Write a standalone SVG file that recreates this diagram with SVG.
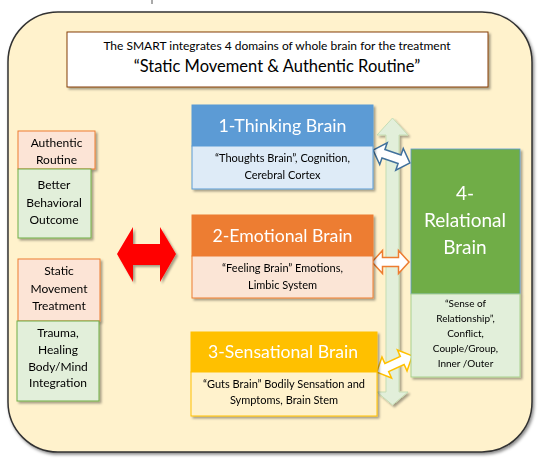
<svg xmlns="http://www.w3.org/2000/svg" width="541" height="460" viewBox="0 0 541 460">
<defs>
<filter id="sh" x="-10%" y="-10%" width="130%" height="130%">
<feDropShadow dx="2" dy="2" stdDeviation="1.2" flood-color="#000" flood-opacity="0.35"/>
</filter>
<filter id="shb" x="-5%" y="-5%" width="110%" height="110%">
<feDropShadow dx="1.5" dy="2" stdDeviation="1.5" flood-color="#000" flood-opacity="0.45"/>
</filter>
<style>
text{font-family:Lato,"Liberation Sans",sans-serif;text-anchor:middle;}
.hd{fill:#fff;font-size:18px;}
.rb{fill:#fff;font-size:19px;}
.sub{fill:#000;font-size:11px;}
.lb{fill:#000;font-size:12px;}
.dbl{fill:#fff;stroke-width:1.5;stroke-linejoin:miter;}
</style>
</defs>
<rect width="541" height="460" fill="#fff"/>
<line x1="152" y1="0" x2="152" y2="4" stroke="#555" stroke-width="1"/>
<g id="frame">
<rect x="8" y="12" width="524" height="440" rx="50" ry="50" fill="#FFF2CC" stroke="#333" stroke-width="1.5" filter="url(#shb)"/>
</g>
<g id="title">
<rect x="67" y="32" width="421" height="55" fill="#fff" stroke="#843C0C" stroke-width="1" filter="url(#sh)"/>
<text x="277" y="50" style="font-size:12px">The SMART integrates 4 domains of whole brain for the treatment</text>
<text x="277" y="72" style="font-size:16.5px">“Static Movement &amp; Authentic Routine”</text>
</g>
<g id="connectors">
<path d="M392.5,118 L408,135 L399,135 L399,392 L408,392 L392.5,405 L377,392 L386,392 L386,135 L377,135 Z" fill="#E2EFDA" stroke="#C5DDB4" stroke-width="1" filter="url(#sh)"/>
<path d="M117,254 L133,227 L133,244 L160,244 L160,227 L176,254 L160,282 L160,265 L133,265 L133,282 Z" fill="#FF0000" filter="url(#sh)"/>
<path class="dbl" stroke="#41719C" transform="translate(391.5,156.5) rotate(19)" d="M-19.5,0 L-8.5,-11.5 L-8.5,-4.5 L8.5,-4.5 L8.5,-11.5 L19.5,0 L8.5,11.5 L8.5,4.5 L-8.5,4.5 L-8.5,11.5 Z"/>
<path class="dbl" stroke="#ED7D31" transform="translate(390.5,262)" d="M-18.5,0 L-8,-11.5 L-8,-4.5 L8,-4.5 L8,-11.5 L18.5,0 L8,11.5 L8,4.5 L-8,4.5 L-8,11.5 Z"/>
<path class="dbl" stroke="#FFC000" transform="translate(394.5,364) rotate(-24.6)" d="M-19.5,0 L-8.5,-11.5 L-8.5,-4.5 L8.5,-4.5 L8.5,-11.5 L19.5,0 L8.5,11.5 L8.5,4.5 L-8.5,4.5 L-8.5,11.5 Z"/>
</g>
<g id="thinking" filter="url(#sh)">
<rect x="192" y="105" width="181" height="41" fill="#5B9BD5" stroke="#5B9BD5"/>
<rect x="192" y="146" width="181" height="43" fill="#DEEBF7" stroke="#5B9BD5"/>
<text class="hd" x="282.5" y="132" textLength="128" lengthAdjust="spacingAndGlyphs">1-Thinking Brain</text>
<text class="sub" x="282.5" y="162">“Thoughts Brain”, Cognition,</text>
<text class="sub" x="282.5" y="179">Cerebral Cortex</text>
</g>
<g id="emotional" filter="url(#sh)">
<rect x="192" y="215" width="181" height="41" fill="#ED7D31" stroke="#ED7D31"/>
<rect x="192" y="256" width="181" height="42" fill="#FBE5D6" stroke="#ED7D31"/>
<text class="hd" x="282.5" y="242" textLength="140" lengthAdjust="spacingAndGlyphs">2-Emotional Brain</text>
<text class="sub" x="282.5" y="272">“Feeling Brain” Emotions,</text>
<text class="sub" x="282.5" y="289">Limbic System</text>
</g>
<g id="sensational" filter="url(#sh)">
<rect x="191" y="332" width="186" height="40" fill="#FFC000" stroke="#FFC000"/>
<rect x="191" y="372" width="186" height="44" fill="#FFF2CC" stroke="#FFC000"/>
<text class="hd" x="283" y="358" textLength="150" lengthAdjust="spacingAndGlyphs">3-Sensational Brain</text>
<text class="sub" x="284" y="388">“Guts Brain” Bodily Sensation and</text>
<text class="sub" x="284" y="404">Symptoms, Brain Stem</text>
</g>
<g id="relational" filter="url(#sh)">
<rect x="411" y="149" width="109" height="145" fill="#70AD47" stroke="#5B9BD5" stroke-width="0.8"/>
<rect x="411" y="294" width="109" height="83" fill="#E2EFDA" stroke="#A9D18E"/>
<text class="rb" x="465" y="200">4-</text>
<text class="rb" x="465" y="227">Relational</text>
<text class="rb" x="465" y="254">Brain</text>
<text class="sub" x="465.5" y="307" style="font-size:10px">“Sense of</text>
<text class="sub" x="465.5" y="322" style="font-size:10px">Relationship”,</text>
<text class="sub" x="465.5" y="337" style="font-size:10px">Conflict,</text>
<text class="sub" x="465.5" y="352" style="font-size:10px">Couple/Group,</text>
<text class="sub" x="465.5" y="367" style="font-size:10px">Inner /Outer</text>
</g>
<g id="authentic" filter="url(#sh)">
<rect x="18" y="131" width="77" height="38" fill="#FCE4D6" stroke="#ED7D31"/>
<text class="lb" x="56.5" y="147">Authentic</text>
<text class="lb" x="56.5" y="164">Routine</text>
</g>
<g id="better" filter="url(#sh)">
<rect x="18" y="169" width="73" height="69" fill="#E2EFDA" stroke="#70AD47"/>
<text class="lb" x="54" y="189">Better</text>
<text class="lb" x="54" y="207">Behavioral</text>
<text class="lb" x="54" y="224">Outcome</text>
</g>
<g id="static" filter="url(#sh)">
<rect x="18" y="259" width="82" height="62" fill="#FCE4D6" stroke="#ED7D31"/>
<text class="lb" x="59" y="275">Static</text>
<text class="lb" x="59" y="293">Movement</text>
<text class="lb" x="59" y="310">Treatment</text>
</g>
<g id="trauma" filter="url(#sh)">
<rect x="17" y="321" width="82" height="80" fill="#E2EFDA" stroke="#70AD47"/>
<text class="lb" x="58" y="337">Trauma,</text>
<text class="lb" x="58" y="354">Healing</text>
<text class="lb" x="58" y="371">Body/Mind</text>
<text class="lb" x="58" y="387">Integration</text>
</g>
</svg>
